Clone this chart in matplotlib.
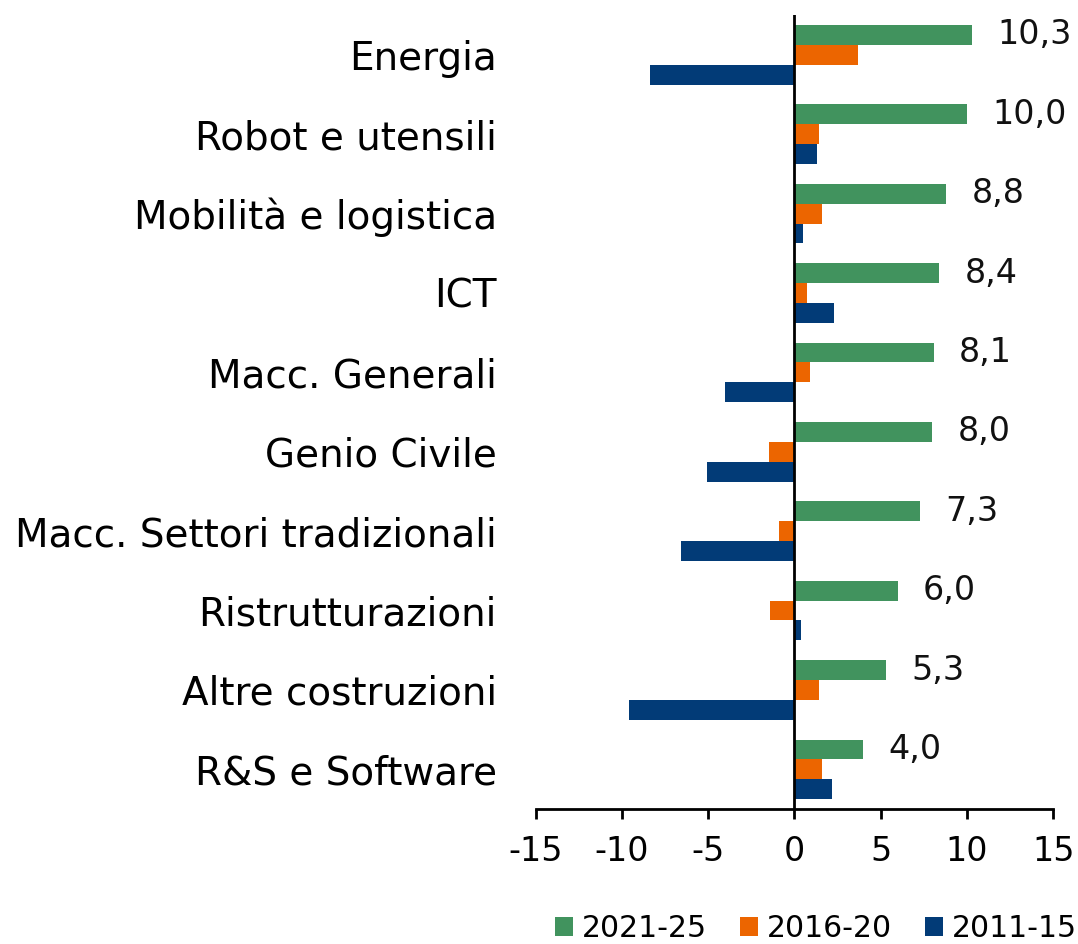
import matplotlib.pyplot as plt
import numpy as np

settori = ['Energia', 'Robot e utensili', 'Mobilità e logistica', 'ICT',
           'Macc. Generali', 'Genio Civile', 'Macc. Settori tradizionali',
           'Ristrutturazioni', 'Altre costruzioni', 'R&S e Software']
v2021 = [10.3, 10.0, 8.8, 8.4, 8.1, 8.0, 7.3, 6.0, 5.3, 4.0]
v2016 = [3.7, 1.4, 1.6, 0.7, 0.9, -1.5, -0.9, -1.4, 1.4, 1.6]
v2011 = [-8.4, 1.3, 0.5, 2.3, -4.0, -5.1, -6.6, 0.4, -9.6, 2.2]

plt.rcParams['font.family'] = ['DejaVu Sans']
plt.rcParams['axes.unicode_minus'] = False

fig = plt.figure(figsize=(10.78, 9.44), dpi=100)
ax = fig.add_axes([0.497, 0.143, 0.48, 0.841])

y = np.arange(len(settori))
h = 0.25
ax.barh(y - h, v2021, height=h, color='#41935E', label='2021-25')
ax.barh(y, v2016, height=h, color='#EC6500', label='2016-20')
ax.barh(y + h, v2011, height=h, color='#023B77', label='2011-15')

for i, v in enumerate(v2021):
    ax.annotate(f'{v:.1f}'.replace('.', ','), (v, i - h),
                xytext=(18, 0), textcoords='offset points', ha='left', va='center',
                fontsize=24, color='#111111')

ax.set_xlim(-15, 15)
ax.set_ylim(len(settori) - 0.5, -0.5)
ax.set_xticks(range(-15, 16, 5))
ax.set_yticks(y)
ax.set_yticklabels(settori, fontsize=28)
ax.tick_params(axis='y', length=0, pad=28)
ax.tick_params(axis='x', labelsize=24, length=7, width=2, direction='out', pad=12)
for s in ['top', 'right', 'left']:
    ax.spines[s].set_visible(False)
ax.spines['bottom'].set_linewidth(2)
ax.axvline(0, color='black', linewidth=2)

fig.legend(loc='lower center', bbox_to_anchor=(0.757, -0.027), ncol=3, frameon=False,
           fontsize=21.5, handlelength=0.6, handleheight=0.6, handletextpad=0.3,
           columnspacing=1.1)

fig.savefig('out.png')
